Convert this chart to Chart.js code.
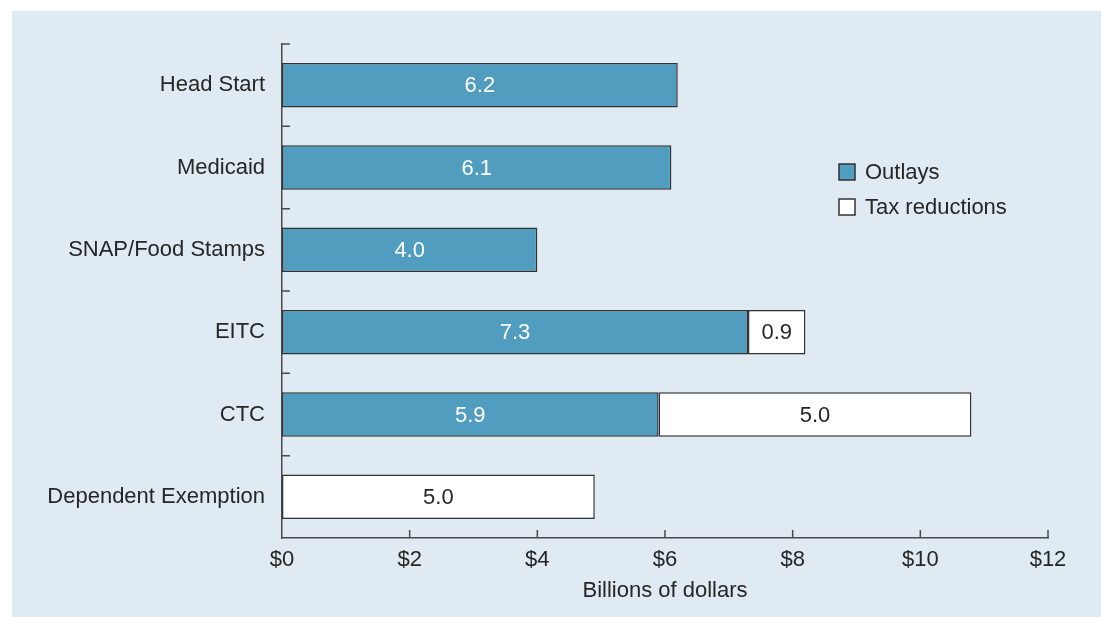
<!DOCTYPE html>
<html>
<head>
<meta charset="utf-8">
<script src="https://cdn.jsdelivr.net/npm/chart.js@4/dist/chart.umd.min.js"></script>
<style>
  html, body { margin: 0; padding: 0; background: #fff; }
  #wrap { width: 1104px; height: 617px; position: relative; }
</style>
</head>
<body>
<div id="wrap"><canvas id="barChart" width="1104" height="617"></canvas></div>
<script>
var categories = ['Head Start', 'Medicaid', 'SNAP/Food Stamps', 'EITC', 'CTC', 'Dependent Exemption'];
var outlays = [6.2, 6.1, 4.0, 7.3, 5.9, 0];
var taxReductions = [0, 0, 0, 0.9, 4.9, 4.9];
var outlayLabels = ['6.2', '6.1', '4.0', '7.3', '5.9', ''];
var taxLabels = ['', '', '', '0.9', '5.0', '5.0'];
var xTicks = [0, 2, 4, 6, 8, 10, 12];

var FONT = 'Liberation Sans, Arial, Helvetica, sans-serif';
var FS = 22;
var INK = '#262626';
var AXIS = '#4a4a4a';

// light blue panel behind everything
var panelBg = {
    id: 'panelBg',
    beforeDraw: function(chart) {
        var c = chart.ctx;
        c.save();
        c.fillStyle = '#dfeaf2';
        c.fillRect(12, 11, 1089, 606);
        c.restore();
    }
};

// short inward tick marks on both axes
var innerTicks = {
    id: 'innerTicks',
    afterDraw: function(chart) {
        var c = chart.ctx, a = chart.chartArea;
        var ys = chart.scales.y, xs = chart.scales.x;
        c.save();
        c.strokeStyle = AXIS;
        c.lineWidth = 1.5;
        c.beginPath();
        var band = ys.getPixelForValue(1) - ys.getPixelForValue(0);
        for (var i = 0; i < categories.length; i++) {
            var y = ys.getPixelForValue(i) - band / 2;
            c.moveTo(a.left, y);
            c.lineTo(a.left + 8, y);
        }
        xTicks.forEach(function(v) {
            if (v === 0) return;
            var x = xs.getPixelForValue(v);
            c.moveTo(x, a.bottom);
            c.lineTo(x, a.bottom - 8);
        });
        c.stroke();
        c.restore();
    }
};

// value labels centred in each segment
var barLabels = {
    id: 'barLabels',
    afterDatasetsDraw: function(chart) {
        var c = chart.ctx;
        c.save();
        c.font = FS + 'px ' + FONT;
        c.textAlign = 'center';
        c.textBaseline = 'middle';
        chart.data.datasets.forEach(function(ds, di) {
            var meta = chart.getDatasetMeta(di);
            meta.data.forEach(function(bar, i) {
                var txt = ds.valueLabels[i];
                if (!txt) return;
                c.fillStyle = ds.labelColor;
                c.fillText(txt, (bar.x + bar.base) / 2, bar.y + 1);
            });
        });
        c.restore();
    }
};

// legend drawn inside the plot
var boxLegend = {
    id: 'boxLegend',
    afterDraw: function(chart) {
        var c = chart.ctx;
        c.save();
        c.font = FS + 'px ' + FONT;
        c.textBaseline = 'middle';
        c.textAlign = 'left';
        chart.data.datasets.forEach(function(ds, i) {
            var y = 172 + i * 35;
            c.fillStyle = ds.backgroundColor;
            c.fillRect(839, y - 8, 16, 16);
            c.strokeStyle = '#333';
            c.lineWidth = 1.5;
            c.strokeRect(839, y - 8, 16, 16);
            c.fillStyle = INK;
            c.fillText(ds.label, 865, y + 1);
        });
        c.restore();
    }
};

var ctx = document.getElementById('barChart').getContext('2d');
var myChart = new Chart(ctx, {
    type: 'bar',
    data: {
        labels: categories,
        datasets: [{
            label: 'Outlays',
            data: outlays,
            valueLabels: outlayLabels,
            labelColor: '#ffffff',
            backgroundColor: '#519dbf',
            borderColor: '#333333',
            borderWidth: 1.5,
            borderSkipped: false,
            categoryPercentage: 1,
            barPercentage: 0.54
        }, {
            label: 'Tax reductions',
            data: taxReductions,
            valueLabels: taxLabels,
            labelColor: INK,
            backgroundColor: '#ffffff',
            borderColor: '#333333',
            borderWidth: 1.5,
            borderSkipped: false,
            categoryPercentage: 1,
            barPercentage: 0.54
        }]
    },
    options: {
        indexAxis: 'y',
        responsive: false,
        animation: false,
        layout: { padding: { top: 44, right: 56, left: 0, bottom: 0 } },
        plugins: {
            legend: { display: false },
            tooltip: { enabled: false }
        },
        scales: {
            x: {
                stacked: true,
                min: 0,
                max: 12,
                afterBuildTicks: function(scale) {
                    scale.ticks = xTicks.map(function(v) { return { value: v }; });
                },
                afterFit: function(scale) { scale.height = 79; },
                grid: { display: false, drawTicks: false },
                border: { display: true, color: AXIS, width: 1.5 },
                ticks: {
                    padding: 9,
                    color: INK,
                    font: { family: FONT, size: FS },
                    callback: function(v) { return '$' + v; }
                },
                title: {
                    display: true,
                    text: 'Billions of dollars',
                    color: INK,
                    font: { family: FONT, size: FS },
                    padding: { top: 0, bottom: 13 }
                }
            },
            y: {
                stacked: true,
                afterFit: function(scale) { scale.width = 282; },
                grid: { display: false, drawTicks: false },
                border: { display: true, color: AXIS, width: 1.5 },
                ticks: {
                    padding: 17,
                    color: INK,
                    font: { family: FONT, size: FS }
                }
            }
        }
    },
    plugins: [panelBg, innerTicks, barLabels, boxLegend]
});
</script>
</body>
</html>
